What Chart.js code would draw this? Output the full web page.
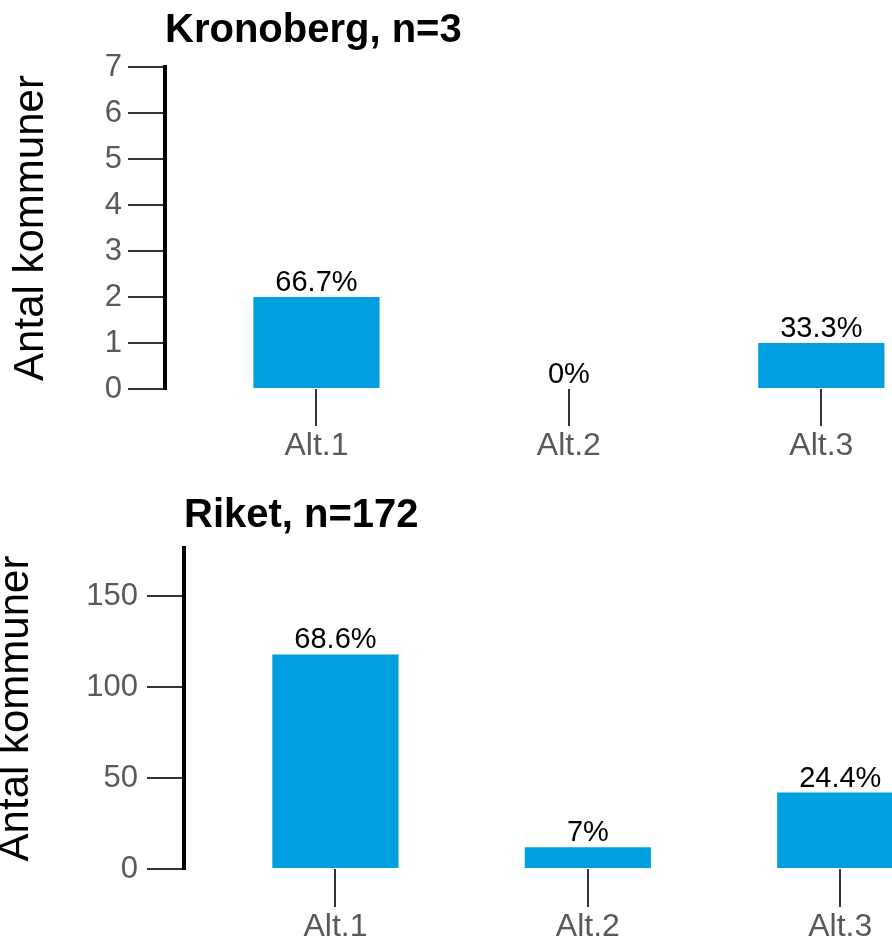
<!DOCTYPE html>
<html>
<head>
<meta charset="utf-8">
<script src="https://cdn.jsdelivr.net/npm/chart.js@4"></script>
<style>
  html, body { margin: 0; padding: 0; background: #fff; }
  canvas { display: block; }
</style>
</head>
<body>
<canvas id="kronoberg" width="892" height="470"></canvas>
<canvas id="riket" width="892" height="472"></canvas>
<script>
const categories = ["Alt.1", "Alt.2", "Alt.3"];

const kronobergTitle = "Kronoberg, n=3";
const kronobergN = 3;
const kronobergValues = [2, 0, 1];

const riketTitle = "Riket, n=172";
const riketN = 172;
const riketValues = [118, 12, 42];

const FONT = "'Liberation Sans', Arial, sans-serif";
const BAR_COLOR = "#00a0e0";

function pctLabel(v, n) {
    return (Math.round(v / n * 1000) / 10) + "%";
}

// draws the percentage text above each bar
const valueLabels = {
    id: "valueLabels",
    afterDatasetsDraw(chart, args, opts) {
        const ctx = chart.ctx;
        const meta = chart.getDatasetMeta(0);
        ctx.save();
        ctx.font = "29px " + FONT;
        ctx.fillStyle = "#000";
        ctx.textAlign = "center";
        ctx.textBaseline = "alphabetic";
        meta.data.forEach((bar, i) => {
            ctx.fillText(opts.labels[i], bar.x, bar.y - 6);
        });
        ctx.restore();
    }
};

function makeChart(id, cfg) {
    const ctx = document.getElementById(id).getContext("2d");
    return new Chart(ctx, {
        type: "bar",
        data: {
            datasets: [{
                data: cfg.values.map((v, i) => ({ x: i + 1, y: v })),
                backgroundColor: BAR_COLOR,
                borderWidth: 0,
                barPercentage: 0.5,
                categoryPercentage: 1
            }]
        },
        plugins: [valueLabels],
        options: {
            responsive: false,
            animation: false,
            layout: { padding: 0 },
            plugins: {
                legend: { display: false },
                tooltip: { enabled: false },
                title: {
                    display: true,
                    text: cfg.title,
                    align: "start",
                    fullSize: false,
                    color: "#000",
                    font: { family: FONT, size: 40, weight: "bold" },
                    padding: cfg.titlePadding
                },
                valueLabels: {
                    labels: cfg.values.map(v => pctLabel(v, cfg.n))
                }
            },
            scales: {
                x: {
                    type: "linear",
                    offset: false,
                    min: 0.4,
                    max: cfg.xMax,
                    afterBuildTicks: scale => {
                        scale.ticks = categories.map((c, i) => ({ value: i + 1 }));
                    },
                    afterFit: scale => { scale.height = cfg.xHeight; },
                    ticks: {
                        callback: value => categories[value - 1],
                        color: "#595959",
                        padding: 1,
                        maxRotation: 0,
                        font: { family: FONT, size: 32 }
                    },
                    grid: {
                        offset: false,
                        drawOnChartArea: false,
                        drawTicks: true,
                        tickLength: cfg.xTickLength,
                        color: "#333",
                        lineWidth: 2
                    },
                    border: { display: false }
                },
                y: {
                    min: 0,
                    max: cfg.yMax,
                    afterFit: scale => { scale.width = cfg.yWidth; },
                    ticks: {
                        stepSize: cfg.yStep,
                        includeBounds: false,
                        color: "#595959",
                        padding: cfg.yTickPadding,
                        font: { family: FONT, size: 31 }
                    },
                    grid: {
                        drawOnChartArea: false,
                        drawTicks: true,
                        tickLength: 37,
                        color: "#333",
                        lineWidth: 2
                    },
                    border: { display: true, color: "#000", width: 4 },
                    title: {
                        display: true,
                        text: "Antal kommuner",
                        color: "#000",
                        font: { family: FONT, size: 42 },
                        padding: { top: cfg.yTitlePad, bottom: 0 }
                    }
                }
            }
        }
    });
}

makeChart("kronoberg", {
    title: kronobergTitle,
    n: kronobergN,
    values: kronobergValues,
    titlePadding: { top: 7, bottom: 12 },
    xMax: 3.28,
    xHeight: 81,
    xTickLength: 37,
    yMax: 7,
    yStep: 1,
    yWidth: 165,
    yTickPadding: 6,
    yTitlePad: 6
});

makeChart("riket", {
    title: riketTitle,
    n: riketN,
    values: riketValues,
    titlePadding: { top: 22, bottom: 8 },
    xMax: 3.205,
    xHeight: 73,
    xTickLength: 38,
    yMax: 176.5,
    yStep: 50,
    yWidth: 184,
    yTickPadding: 9,
    yTitlePad: -9
});
</script>
</body>
</html>
